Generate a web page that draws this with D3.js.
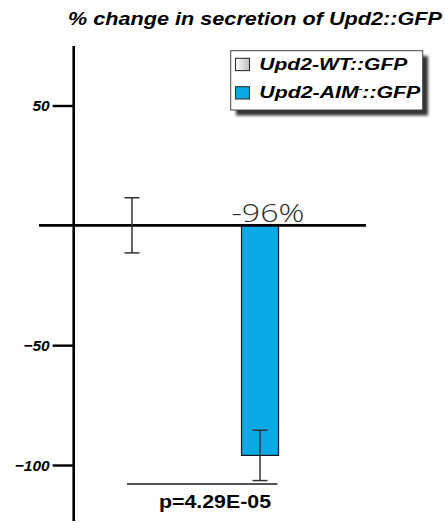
<!DOCTYPE html>
<html>
<head>
<meta charset="utf-8">
<script src="https://cdn.jsdelivr.net/npm/d3@7"></script>
<style>
  html, body { margin: 0; padding: 0; background: #fff; }
  svg { display: block; }
</style>
</head>
<body>
<svg id="chart" width="445" height="523"></svg>
<script>
// Genotypes and their % change in Upd2::GFP secretion (mean, SEM)
const genotypes = ["Upd2-WT::GFP", "Upd2-AIM::GFP"];
const pctChange = [0, -96];
const sem = [11.5, 10.5];
const barColors = ["url(#wtGrad)", "#08a9e6"];
const yTicks = [50, -50, -100];
const valueLabel = "-96%";
const pLabel = "p=4.29E-05";
const title = "% change in secretion of Upd2::GFP";

const svg = d3.select("#chart");
const defs = svg.append("defs");

const grad = defs.append("linearGradient").attr("id", "wtGrad")
  .attr("x1", "0%").attr("x2", "100%").attr("y1", "0%").attr("y2", "0%");
grad.append("stop").attr("offset", "0%").attr("stop-color", "#ffffff");
grad.append("stop").attr("offset", "100%").attr("stop-color", "#bdbdbd");

const shadow = defs.append("filter").attr("id", "shadow")
  .attr("x", "-10%").attr("y", "-20%").attr("width", "130%").attr("height", "160%");
shadow.append("feGaussianBlur").attr("stdDeviation", 1.6);

const y = d3.scaleLinear().domain([50, -100]).range([105.5, 465]);
const x = d3.scaleBand().domain(genotypes).range([68, 324])
  .paddingInner(0.711).paddingOuter(0.355);

const axisX = 73.7;

// Title
svg.append("text")
  .attr("x", 68).attr("y", 25)
  .attr("textLength", 374).attr("lengthAdjust", "spacingAndGlyphs")
  .style("font-family", "'Liberation Sans', Arial, sans-serif")
  .style("font-weight", "bold").style("font-style", "italic")
  .style("font-size", "18px").attr("fill", "#000")
  .text(title);

// Vertical axis line
svg.append("line")
  .attr("x1", axisX).attr("x2", axisX)
  .attr("y1", 46).attr("y2", 521)
  .attr("stroke", "#000").attr("stroke-width", 2.6);

// Y ticks and labels
const yAxis = d3.axisLeft(y).tickValues(yTicks).tickSize(21).tickPadding(3)
  .tickFormat(d3.format("d"));
const gy = svg.append("g").attr("transform", `translate(${axisX},0)`).call(yAxis);
gy.select(".domain").remove();
gy.selectAll(".tick line").attr("stroke", "#000").attr("stroke-width", 2.4);
gy.selectAll(".tick text")
  .attr("dy", "0.35em")
  .style("font-family", "'Liberation Sans', Arial, sans-serif")
  .style("font-weight", "bold").style("font-style", "italic")
  .style("font-size", "15.5px").attr("fill", "#000");

// Bars
const rows = genotypes.map((g, i) => ({ g, v: pctChange[i], e: sem[i], c: barColors[i] }));
svg.append("g").selectAll("rect").data(rows.filter(d => d.v !== 0)).join("rect")
  .attr("x", d => x(d.g))
  .attr("width", x.bandwidth())
  .attr("y", d => Math.min(y(0), y(d.v)))
  .attr("height", d => Math.abs(y(d.v) - y(0)))
  .attr("fill", d => d.c)
  .attr("stroke", "#1a1a1a").attr("stroke-width", 1.2);

// Zero baseline
svg.append("line")
  .attr("x1", 39).attr("x2", 366)
  .attr("y1", y(0)).attr("y2", y(0))
  .attr("stroke", "#000").attr("stroke-width", 2.6);

// Error bars
const eb = svg.append("g").attr("stroke", "#333").attr("stroke-width", 1.5);
rows.forEach(d => {
  const cx = x(d.g) + x.bandwidth() / 2;
  eb.append("line").attr("x1", cx).attr("x2", cx)
    .attr("y1", y(d.v + d.e)).attr("y2", y(d.v - d.e));
  [d.v + d.e, d.v - d.e].forEach(v => {
    eb.append("line").attr("x1", cx - 7.5).attr("x2", cx + 7.5)
      .attr("y1", y(v)).attr("y2", y(v));
  });
});

// Value label above the AIM bar
const aimX = x(genotypes[1]) + x.bandwidth() / 2;
svg.append("text")
  .attr("x", aimX + 8).attr("y", 221.5)
  .attr("text-anchor", "middle")
  .attr("textLength", 73).attr("lengthAdjust", "spacingAndGlyphs")
  .style("font-family", "'Open Sans', 'DejaVu Sans', sans-serif")
  .style("font-weight", 300)
  .style("font-size", "26px").attr("fill", "#2e2e2e")
  .text(valueLabel);

// Significance bracket
svg.append("line")
  .attr("x1", 127).attr("x2", 277.5)
  .attr("y1", 484).attr("y2", 484)
  .attr("stroke", "#555").attr("stroke-width", 2);
svg.append("text")
  .attr("x", 159).attr("y", 507.5)
  .attr("textLength", 112).attr("lengthAdjust", "spacingAndGlyphs")
  .style("font-family", "'Liberation Sans', Arial, sans-serif")
  .style("font-weight", "bold")
  .style("font-size", "17.5px").attr("fill", "#000")
  .text(pLabel);

// Legend
const lg = svg.append("g");
lg.append("rect")
  .attr("x", 236).attr("y", 56).attr("width", 192).attr("height", 59.5)
  .attr("fill", "#333").attr("filter", "url(#shadow)");
lg.append("rect")
  .attr("x", 230.7).attr("y", 50.7).attr("width", 192).attr("height", 59.3)
  .attr("fill", "#fff").attr("stroke", "#444").attr("stroke-width", 1);

const legendRows = [
  { c: barColors[0], y: 58.3, ty: 69.8, name: "Upd2-WT::GFP", sup: null, w: 148 },
  { c: barColors[1], y: 86.7, ty: 98.3, name: "Upd2-AIM", sup: "-", rest: "::GFP", w: 161 }
];
legendRows.forEach(r => {
  lg.append("rect")
    .attr("x", 235.5).attr("y", r.y).attr("width", 14).attr("height", 12.3)
    .attr("fill", r.c).attr("stroke", "#333").attr("stroke-width", 1.1);
  const t = lg.append("text")
    .attr("x", 259.3).attr("y", r.ty)
    .attr("textLength", r.w).attr("lengthAdjust", "spacingAndGlyphs")
    .style("font-family", "'Liberation Sans', Arial, sans-serif")
    .style("font-weight", "bold").style("font-style", "italic")
    .style("font-size", "16px").attr("fill", "#000");
  if (r.sup) {
    t.append("tspan").text(r.name);
    t.append("tspan").attr("dy", -7).style("font-size", "8px").text(r.sup);
    t.append("tspan").attr("dy", 7).text(r.rest);
  } else {
    t.text(r.name);
  }
});
</script>
</body>
</html>
